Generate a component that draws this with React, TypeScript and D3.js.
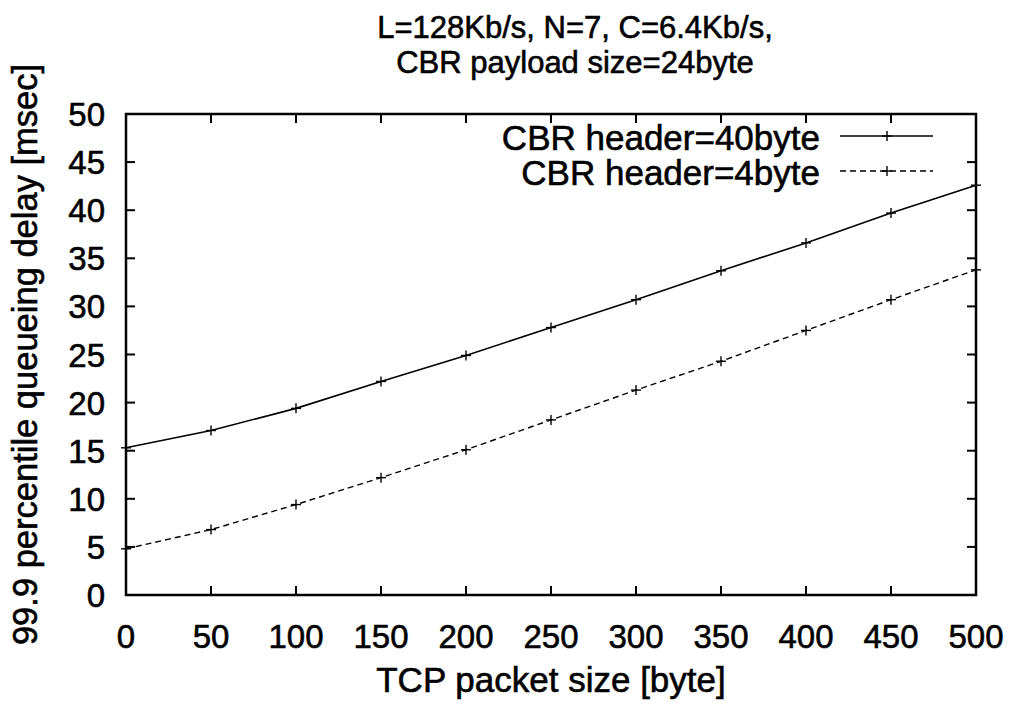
import React from "react";
import * as d3 from "d3";

const xValues = [0, 50, 100, 150, 200, 250, 300, 350, 400, 450, 500];
const header40 = [15.3, 17.1, 19.4, 22.2, 24.9, 27.8, 30.7, 33.7, 36.6, 39.7, 42.6];
const header4 = [4.8, 6.8, 9.4, 12.2, 15.1, 18.2, 21.3, 24.3, 27.5, 30.7, 33.8];
const xTicks = [0, 50, 100, 150, 200, 250, 300, 350, 400, 450, 500];
const yTicks = [0, 5, 10, 15, 20, 25, 30, 35, 40, 45, 50];
const seriesNames = ["CBR header=40byte", "CBR header=4byte"];
const titleLines = ["L=128Kb/s, N=7, C=6.4Kb/s,", "CBR payload size=24byte"];
const xLabel = "TCP packet size [byte]";
const yLabel = "99.9 percentile queueing delay [msec]";

export default function App() {
  const W = 1010, H = 705;
  const left = 126, right = 976, top = 114, bottom = 595;
  const x = d3.scaleLinear().domain([0, 500]).range([left, right]);
  const y = d3.scaleLinear().domain([0, 50]).range([bottom, top]);
  const font = "'Liberation Sans', Arial, sans-serif";
  const tl = 9;
  const txt = { fontFamily: font, fill: "#000", stroke: "#000", strokeWidth: 0.6 } as const;
  const series = [
    { name: seriesNames[0], vals: header40, dash: undefined as string | undefined, width: 1.6 },
    { name: seriesNames[1], vals: header4, dash: "6,4", width: 1.4 },
  ];
  const line = d3.line<[number, number]>().x(d => x(d[0])).y(d => y(d[1]));
  const plus = (cx: number, cy: number, s: number, key: string, w: number) => (
    <g key={key} stroke="#000" strokeWidth={w}>
      <line x1={cx - s} x2={cx + s} y1={cy} y2={cy} />
      <line x1={cx} x2={cx} y1={cy - s} y2={cy + s} />
    </g>
  );
  return (
    <svg width={W} height={H} style={{ position: "absolute", left: 0, top: 0, background: "#fff" }}>
      <rect x={0} y={0} width={W} height={H} fill="#fff" />
      {titleLines.map((t, i) => (
        <text key={t} x={575} y={38 + i * 35} textAnchor="middle" fontSize={31} {...txt}>{t}</text>
      ))}
      {xTicks.map(v => (
        <g key={"xt" + v} stroke="#000" strokeWidth={2}>
          <line x1={x(v)} x2={x(v)} y1={bottom} y2={bottom - tl} />
          <line x1={x(v)} x2={x(v)} y1={top} y2={top + tl} />
        </g>
      ))}
      {yTicks.map(v => (
        <g key={"yt" + v} stroke="#000" strokeWidth={2}>
          <line x1={left} x2={left + tl} y1={y(v)} y2={y(v)} />
          <line x1={right} x2={right - tl} y1={y(v)} y2={y(v)} />
        </g>
      ))}
      {xTicks.map(v => (
        <text key={"xl" + v} x={x(v)} y={648} textAnchor="middle" fontSize={33} {...txt}>{v}</text>
      ))}
      {yTicks.map(v => (
        <text key={"yl" + v} x={105} y={y(v) + 12} textAnchor="end" fontSize={33} {...txt}>{v}</text>
      ))}
      <text x={551} y={692} textAnchor="middle" fontSize={35} {...txt}>{xLabel}</text>
      <text transform={`translate(37,${(top + bottom) / 2}) rotate(-90)`} textAnchor="middle" fontSize={34.5} {...txt}>{yLabel}</text>
      {series.map(s => (
        <g key={s.name}>
          <path d={line(xValues.map((v, i) => [v, s.vals[i]]) as [number, number][]) || ""} fill="none" stroke="#000" strokeWidth={s.width} strokeDasharray={s.dash} />
          {xValues.map((v, i) => plus(x(v), y(s.vals[i]), 5, s.name + i, 1.4))}
        </g>
      ))}
      {series.map((s, si) => {
        const base = 150 + si * 35;
        const ly = base - 14;
        return (
          <g key={"lg" + si}>
            <text x={820} y={base} textAnchor="end" fontSize={35} {...txt}>{s.name}</text>
            <line x1={840} x2={933} y1={ly} y2={ly} stroke="#000" strokeWidth={s.width} strokeDasharray={s.dash} />
            {plus(887, ly, 5, "lgp" + si, 1.4)}
          </g>
        );
      })}
      <rect x={left} y={top} width={right - left} height={bottom - top} fill="none" stroke="#000" strokeWidth={2.5} />
    </svg>
  );
}
